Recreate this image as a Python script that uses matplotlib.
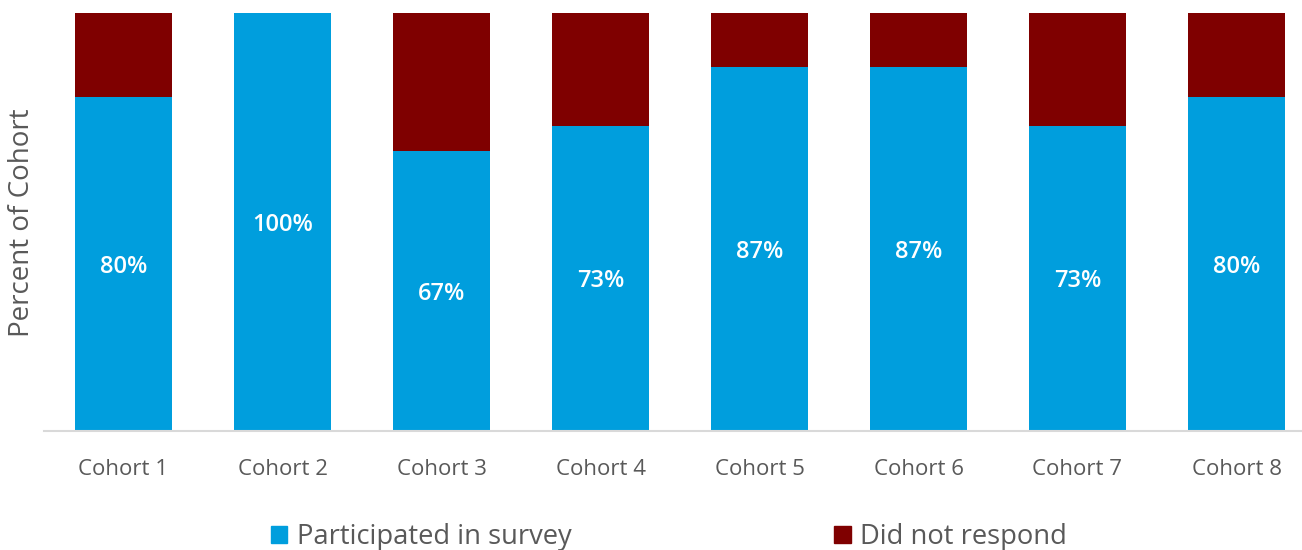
import matplotlib
matplotlib.use("Agg")
import matplotlib.pyplot as plt
from matplotlib.patches import Patch

plt.rcParams['font.family'] = ['Open Sans', 'DejaVu Sans']

cohorts = ["Cohort 1", "Cohort 2", "Cohort 3", "Cohort 4",
           "Cohort 5", "Cohort 6", "Cohort 7", "Cohort 8"]
participated = [80, 100, 67, 73, 87, 87, 73, 80]
no_response = [100 - p for p in participated]

BLUE = "#009EDD"
RED = "#7F0000"
GREY = "#595959"

fig = plt.figure(figsize=(13.02, 5.50), dpi=100)
# axes spans from the left axis start to just past the right edge
ax = fig.add_axes([44 / 1302, (550 - 431) / 550, 1272 / 1302, 418 / 550])

x = range(len(cohorts))
width = 0.61
ax.bar(x, participated, width=width, color=BLUE, label="Participated in survey")
ax.bar(x, no_response, width=width, bottom=participated, color=RED,
       label="Did not respond")

for i, p in enumerate(participated):
    ax.text(i, p / 2, f"{p}%", ha="center", va="center_baseline", color="white",
            fontsize=17, fontweight="semibold")

ax.set_xlim(-0.5, len(cohorts) - 0.5)
ax.set_ylim(0, 100)
ax.set_xticks(list(x))
ax.set_xticklabels(cohorts, fontsize=16, color=GREY)
ax.tick_params(axis="x", length=0, pad=20)
ax.set_yticks([])
for side in ("top", "right", "left"):
    ax.spines[side].set_visible(False)
ax.spines["bottom"].set_color("#D9D9D9")
ax.spines["bottom"].set_linewidth(1.5)

fig.text(22 / 1302, (550 - 223) / 550, "Percent of Cohort", rotation=90,
         ha="center", va="center", fontsize=20, color=GREY)

handles = [Patch(color=BLUE), Patch(color=RED)]
fig.legend(handles, ["Participated in survey", "Did not respond"],
           loc="center", bbox_to_anchor=(669 / 1302, (550 - 537) / 550),
           ncol=2, frameon=False, fontsize=19.7, labelcolor=GREY,
           handlelength=0.6, handleheight=0.6, handletextpad=0.35,
           columnspacing=9.6, borderpad=0, borderaxespad=0)

fig.savefig("out.png", dpi=100)
